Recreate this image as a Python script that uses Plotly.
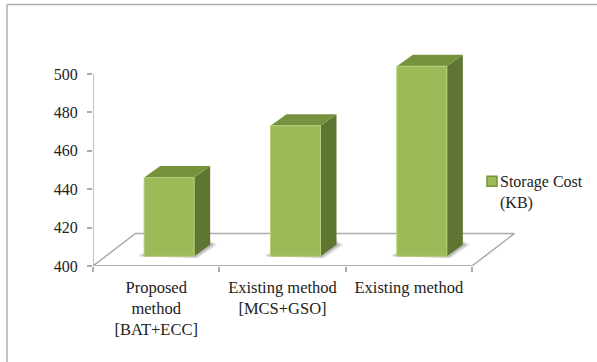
import plotly.graph_objects as go

# Chart data
categories = ["Proposed<br>method<br>[BAT+ECC]", "Existing method<br>[MCS+GSO]", "Existing method"]
storage_cost = [441, 468, 499]
y_ticks = [400, 420, 440, 460, 480, 500]
series_name = "Storage Cost<br>(KB)"

# Page and axis box, in pixels
W, H = 597, 362
LEFT, RIGHT, TOP, BOTTOM = 93, 472, 74, 265.7
PX_X = (RIGHT - LEFT) / 3
PX_Y = (BOTTOM - TOP) / 100

# The plot area runs past the axes so the 3D boxes and floor are not cut off
AREA_RIGHT, AREA_TOP = 525, 44
X_MAX = -0.5 + (AREA_RIGHT - LEFT) / PX_X
Y_MAX = 400 + (BOTTOM - AREA_TOP) / PX_Y

# Oblique projection used for the floor and the bar boxes
FLOOR_DX, FLOOR_DY = 42.5 / PX_X, 32.5 / PX_Y
BAR_W = 50 / PX_X
FRONT_DX, FRONT_DY = 13 / PX_X, 9.7 / PX_Y
DEPTH_DX, DEPTH_DY = 16 / PX_X, 11.5 / PX_Y

FRONT = "#9BBB59"
EDGE = "#B4CE7C"
TOP_FACE = "#76923C"
SIDE = "#5F7532"
AXIS = "#ABABAB"
FRAME = "#ADADAD"
INK = "#222222"
SERIF = "Liberation Serif"

fig = go.Figure()


def face(xs, ys, fill, line=None, width=1.5):
    fig.add_trace(go.Scatter(
        x=xs, y=ys, mode="lines", fill="toself", fillcolor=fill,
        line=dict(color=line or fill, width=width if line else 0),
        cliponaxis=False, showlegend=False, hoverinfo="skip",
    ))


def px_x(px):
    return (px - LEFT) / (AREA_RIGHT - LEFT)


def px_y(px):
    return (BOTTOM - px) / (BOTTOM - AREA_TOP)


# Floor of the 3D plot box
face([-0.5, -0.5 + FLOOR_DX, 2.5 + FLOOR_DX, 2.5, -0.5],
     [400, 400 + FLOOR_DY, 400 + FLOOR_DY, 400, 400],
     "#FFFFFF", AXIS)

base = 400 + FRONT_DY
for i, v in enumerate(storage_cost):
    x0 = i - BAR_W / 2 + FRONT_DX
    x1 = x0 + BAR_W
    top = v + FRONT_DY
    # Soft shadow the box casts on the floor
    for grow, alpha in ((1.0, 0.16), (0.55, 0.28)):
        gx, gy = 7 * grow / PX_X, 4 * grow / PX_Y
        face([x0 - gx, x0, x1 + DEPTH_DX, x1 + DEPTH_DX + gx, x1 + gx * 0.5, x0 - gx],
             [base, base + gy, base + DEPTH_DY + gy, base + DEPTH_DY, base - 0.5 * gy, base],
             f"rgba(90,90,90,{alpha})")
    # Right side, top and front of the box
    face([x1, x1 + DEPTH_DX, x1 + DEPTH_DX, x1, x1],
         [base, base + DEPTH_DY, top + DEPTH_DY, top, base], SIDE)
    face([x0, x0 + DEPTH_DX, x1 + DEPTH_DX, x1, x0],
         [top, top + DEPTH_DY, top + DEPTH_DY, top, top], TOP_FACE)
    face([x0, x1, x1, x0, x0], [base, base, top, top, base], FRONT, EDGE, 1)

fig.update_layout(
    width=W, height=H,
    autosize=False,
    margin=dict(l=LEFT, r=W - AREA_RIGHT, t=AREA_TOP, b=H - BOTTOM, pad=0),
    paper_bgcolor="white", plot_bgcolor="rgba(0,0,0,0)",
    font=dict(family=SERIF, size=16, color=INK),
    showlegend=False,
    xaxis=dict(
        range=[-0.5, X_MAX], tickmode="array", tickvals=[0, 1, 2], ticktext=categories,
        ticks="", showgrid=False, zeroline=False, showline=False,
        ticklabelstandoff=9,
        tickfont=dict(family=SERIF, size=16.5, color=INK),
        minor=dict(tickmode="array", tickvals=[-0.5, 0.5, 1.5, 2.5],
                   ticks="outside", ticklen=5, tickcolor=AXIS, tickwidth=1.5),
    ),
    yaxis=dict(
        range=[400, Y_MAX], tickmode="array", tickvals=y_ticks,
        ticks="outside", ticklen=5, tickcolor=AXIS, tickwidth=1.5,
        showgrid=False, zeroline=False, showline=False,
        ticklabelstandoff=6,
        tickfont=dict(family=SERIF, size=16, color=INK),
    ),
    shapes=[
        # Axis lines stop at the last tick, not at the edge of the plot area
        dict(type="line", xref="x", yref="y", x0=-0.5, x1=-0.5, y0=400, y1=500,
             line=dict(color=AXIS, width=1.5)),
        dict(type="line", xref="x", yref="y", x0=-0.5, x1=2.5, y0=400, y1=400,
             line=dict(color=AXIS, width=1.5)),
        # Gray frame around the chart area, open past the page edges
        dict(type="line", xref="paper", yref="paper",
             x0=px_x(7), x1=px_x(W), y0=px_y(4.5), y1=px_y(4.5),
             line=dict(color=FRAME, width=1.5)),
        dict(type="line", xref="paper", yref="paper",
             x0=px_x(7), x1=px_x(7), y0=px_y(4.5), y1=px_y(H),
             line=dict(color=FRAME, width=1.5)),
        # Legend swatch
        dict(type="rect", xref="paper", yref="paper",
             x0=px_x(487), x1=px_x(497), y0=px_y(176), y1=px_y(186),
             fillcolor=FRONT, line=dict(color=TOP_FACE, width=1.5)),
    ],
    annotations=[
        dict(text=series_name, xref="paper", yref="paper",
             x=px_x(498), y=px_y(171), xanchor="left", yanchor="top",
             align="left", showarrow=False,
             font=dict(family=SERIF, size=16, color=INK)),
    ],
)

fig.write_html("out.html", config=dict(displayModeBar=False))
